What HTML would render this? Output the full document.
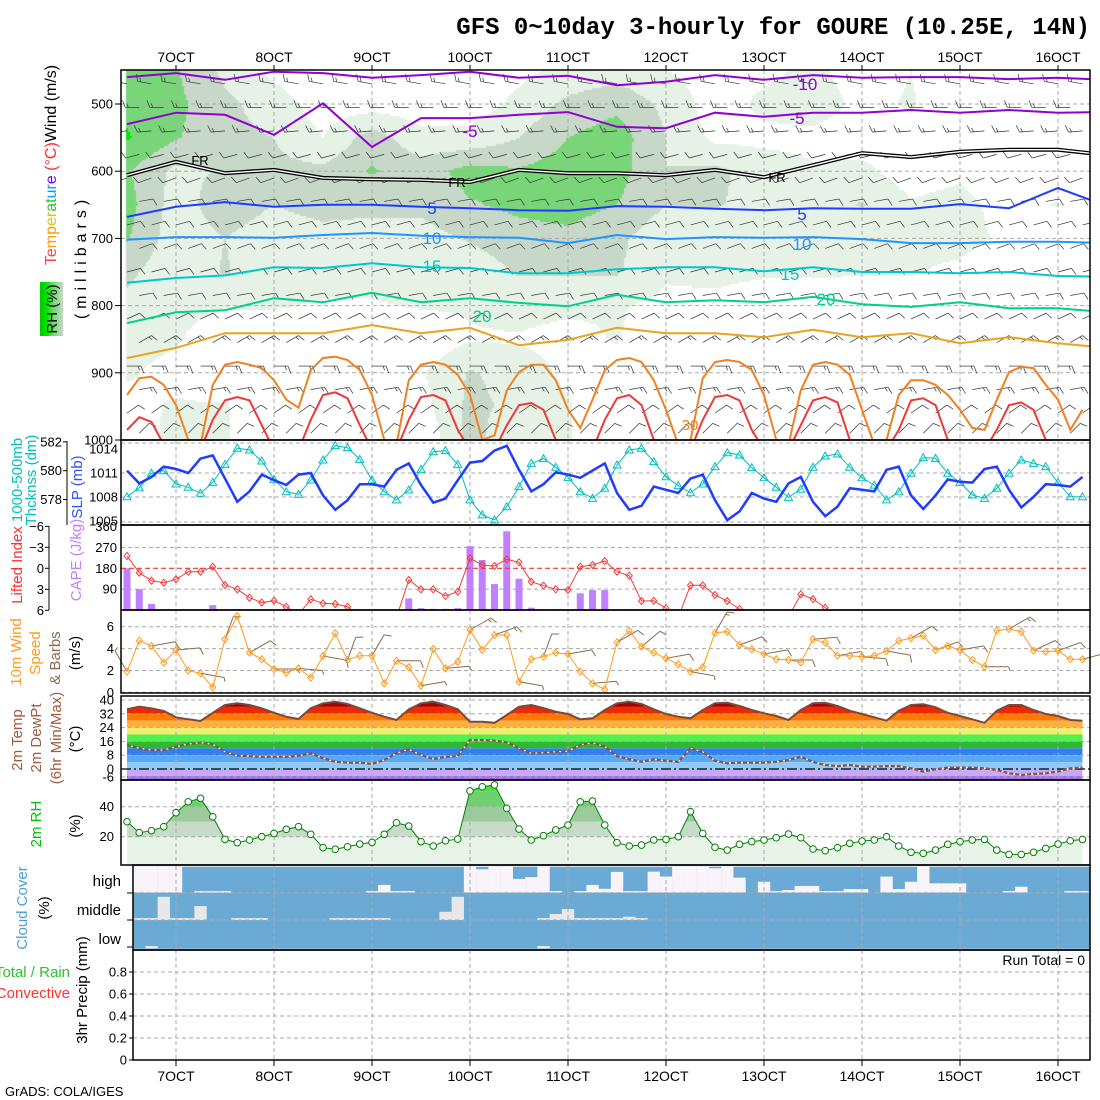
<!DOCTYPE html>
<html><head><meta charset="utf-8">
<style>
body{margin:0;background:#fff;}
#wrap{position:relative;width:1100px;height:1100px;overflow:hidden;background:#fff;}
canvas,svg{position:absolute;left:0;top:0;}
text{font-family:"Liberation Sans",sans-serif;}
</style></head>
<body>
<div id="wrap">
<canvas id="rhc" width="1100" height="1100"></canvas>
<svg id="s" width="1100" height="1100" xmlns="http://www.w3.org/2000/svg">
<defs>
<clipPath id="cTop"><rect x="121" y="70" width="969" height="370"/></clipPath>
<clipPath id="cLI"><rect x="121" y="525" width="969" height="85"/></clipPath>
<clipPath id="cCloud"><rect x="133" y="866" width="957" height="84"/></clipPath>
<linearGradient id="rhLeg" x1="0" x2="1" y1="0" y2="0"><stop offset="0" stop-color="#00c800"/><stop offset="0.3" stop-color="#00e600"/><stop offset="0.6" stop-color="#78d678"/><stop offset="1" stop-color="#c8d8c8"/></linearGradient>
</defs>
<text x="1090" y="34" text-anchor="end" style="font-family:'Liberation Mono',monospace;font-weight:bold;font-size:24px;">GFS 0~10day 3-hourly for GOURE (10.25E, 14N)</text>
<g id="gTop"></g>
<g id="gSlp"></g>
<g id="gCape"></g>
<g id="gWind"></g>
<g id="gTemp"></g>
<g id="gRh"></g>
<g id="gCloud"></g>
<g id="gPrec"></g>
<rect x="40" y="282" width="23" height="54" fill="url(#rhLeg)"/>
<text transform="translate(57,309) rotate(-90)" text-anchor="middle" font-size="15">RH (%)</text>
<text transform="translate(56,165) rotate(-90)" text-anchor="middle" font-size="16"><tspan fill="#ff4040">Te</tspan><tspan fill="#ff9900">mp</tspan><tspan fill="#d8c800">er</tspan><tspan fill="#30c030">at</tspan><tspan fill="#00a0ff">ur</tspan><tspan fill="#8000ff">e</tspan><tspan fill="#ff3030"> (°C)</tspan><tspan fill="#000">Wind (m/s)</tspan></text>
<text transform="translate(86,257) rotate(-90)" text-anchor="middle" font-size="16" letter-spacing="5">(millibars)</text>
<text transform="translate(22,480) rotate(-90)" text-anchor="middle" font-size="15" fill="#00c0c0">1000-500mb</text>
<text transform="translate(36,480) rotate(-90)" text-anchor="middle" font-size="15" fill="#00c0c0">Thcknss (dm)</text>
<text transform="translate(82,487) rotate(-90)" text-anchor="middle" font-size="15" fill="#3050ff">SLP (mb)</text>
<text transform="translate(22,565) rotate(-90)" text-anchor="middle" font-size="15" fill="#ff3030">Lifted Index</text>
<text transform="translate(81,560) rotate(-90)" text-anchor="middle" font-size="15" fill="#c080ff">CAPE (J/kg)</text>
<text transform="translate(21,652) rotate(-90)" text-anchor="middle" font-size="15" fill="#ff9a20">10m Wind</text>
<text transform="translate(40,653) rotate(-90)" text-anchor="middle" font-size="15" fill="#ff9a20">Speed</text>
<text transform="translate(60,658) rotate(-90)" text-anchor="middle" font-size="15" fill="#8b6b4a">&amp; Barbs</text>
<text transform="translate(80,653) rotate(-90)" text-anchor="middle" font-size="15">(m/s)</text>
<text transform="translate(22,740) rotate(-90)" text-anchor="middle" font-size="15" fill="#a05a3c">2m Temp</text>
<text transform="translate(41,738) rotate(-90)" text-anchor="middle" font-size="15" fill="#a05a3c">2m DewPt</text>
<text transform="translate(61,738) rotate(-90)" text-anchor="middle" font-size="15" fill="#a05a3c">(6hr Min/Max)</text>
<text transform="translate(80,739) rotate(-90)" text-anchor="middle" font-size="15">(°C)</text>
<text transform="translate(41,824) rotate(-90)" text-anchor="middle" font-size="15" fill="#00c000">2m RH</text>
<text transform="translate(80,826) rotate(-90)" text-anchor="middle" font-size="15">(%)</text>
<text transform="translate(27,908) rotate(-90)" text-anchor="middle" font-size="15" fill="#4aa0d8">Cloud Cover</text>
<text transform="translate(49,908) rotate(-90)" text-anchor="middle" font-size="15">(%)</text>
<text x="121" y="886" text-anchor="end" font-size="15">high</text>
<text x="121" y="915" text-anchor="end" font-size="15">middle</text>
<text x="121" y="944" text-anchor="end" font-size="15">low</text>
<text x="70" y="977" text-anchor="end" font-size="15" fill="#30c030">Total / Rain</text>
<text x="70" y="998" text-anchor="end" font-size="15" fill="#ff3030">Convective</text>
<text transform="translate(87,990) rotate(-90)" text-anchor="middle" font-size="15">3hr Precip (mm)</text>
<text x="1085" y="965" text-anchor="end" font-size="14">Run Total = 0</text>
<text x="5" y="1096" font-size="13">GrADS: COLA/IGES</text>
</svg>
</div>
<script>
// ---------- DATA ----------
const dayLabels=["7OCT","8OCT","9OCT","10OCT","11OCT","12OCT","13OCT","14OCT","15OCT","16OCT"];
const pTicks=[500,600,700,800,900,1000];
const slp=[1011.3,1009.7,1010.5,1011.8,1011.5,1011.0,1012.8,1013.2,1010.3,1007.4,1008.7,1010.8,1010.1,1009.5,1010.8,1011.0,1008.2,1006.4,1007.6,1009.6,1009.6,1009.3,1011.4,1012.2,1009.5,1007.3,1007.8,1010.1,1012.3,1012.5,1013.8,1014.4,1011.4,1008.7,1009.6,1011.1,1010.8,1010.4,1011.3,1012.2,1008.5,1006.4,1006.9,1009.3,1008.9,1008.5,1010.3,1010.8,1007.6,1005.1,1006.2,1008.5,1007.8,1007.4,1009.7,1010.5,1007.4,1005.6,1006.8,1009.1,1008.9,1008.7,1011.4,1011.8,1008.2,1006.5,1008.2,1010.2,1009.9,1009.8,1011.5,1011.8,1008.9,1006.7,1008.0,1009.6,1009.5,1009.3,1010.5];
const thick=[578.19,578.82,579.82,580.0,579.08,578.85,578.43,579.19,580.44,581.56,581.44,580.67,579.4,578.54,578.36,579.35,580.74,581.74,581.6,580.79,579.35,578.54,577.97,578.66,580.1,581.32,581.39,580.44,577.97,576.93,576.58,577.5,578.89,580.51,580.84,580.24,579.54,578.54,578.08,578.78,580.4,581.44,581.56,580.63,579.58,578.96,578.47,579.08,580.28,581.25,581.09,580.21,579.51,578.85,578.15,578.71,580.24,581.02,581.16,580.24,579.51,579.0,577.97,578.54,579.82,580.9,580.86,579.82,579.19,578.31,578.08,578.78,579.82,580.74,580.51,580.28,579.17,578.19,578.19];
const liftedIndex=[-1.76,0.63,1.77,2.06,1.57,0.49,0.49,-0.23,2.39,3.0,4.2,4.9,4.63,5.49,6.6,4.43,5.0,5.1,5.49,7,7,7,7,1.67,3.0,3.0,3.96,3.34,-1.43,-0.47,-0.33,-1.29,-0.86,1.91,2.48,3.0,3.1,-0.23,-0.47,-1.04,0.49,1.06,4.67,4.63,5.71,7,2.43,2.43,3.81,4.67,5.81,7,7,7,7,3.72,4.39,5.62,7,7,7,7,7,7,7,7,7,7,7,7,7,7,7,7,7,7,7,7,7];
const cape=[180,90,26,0,0,0,0,21,0,3,0,0,0,0,0,3,0,3,0,0,0,0,0,50,8,5,5,8,276,216,112,340,135,10,3,2,2,72,86,86,0,0,0,0,0,0,0,0,0,0,0,0,0,0,0,0,0,0,0,0,0,0,0,0,0,0,0,0,0,0,0,0,0,0,0,0,0,0,0];
const windSpeed=[1.89,4.72,4.24,2.71,3.87,1.98,1.74,0.46,4.85,6.98,3.62,3.02,2.13,1.79,2.19,1.34,3.32,5.4,2.96,3.35,3.35,0.82,2.89,2.29,0.6,3.96,2.19,2.8,5.7,3.87,5.24,5.24,0.97,3.02,3.26,3.62,3.5,1.89,0.82,0.27,4.57,5.61,4.17,3.62,3.11,2.56,1.89,2.29,5.45,5.54,4.33,3.93,3.5,3.02,2.96,2.74,4.85,4.54,3.35,3.35,3.26,3.35,3.78,4.72,4.94,5.18,3.87,4.24,3.87,2.96,2.34,5.64,5.79,5.54,3.81,3.71,3.81,3.02,3.02];
const windDir=[330,80,85,100,20,60,90,95,100,20,30,90,80,85,60,70,100,20,80,85,60,50,80,100,30,70,80,90,85,80,95,100,60,70,80,90,60,65,70,75];
const temp2m=[34.6,36.1,35.2,33.6,30.0,28.8,27.8,32.6,37.1,38.1,37.1,35.2,32.6,30.3,29.0,35.2,38.1,39.0,37.7,35.2,32.6,30.3,28.4,34.6,38.1,39.0,37.1,34.6,27.4,27.4,26.8,31.3,36.1,37.1,35.3,33.2,31.9,28.8,29.4,34.2,38.1,39.0,37.7,34.6,31.9,30.3,29.4,34.2,38.1,38.4,36.5,34.2,32.3,30.7,28.4,34.2,38.1,38.4,36.5,33.8,31.9,30.0,28.0,33.8,37.1,37.5,35.8,32.6,30.7,28.8,26.8,33.8,37.1,37.1,34.2,31.9,30.7,28.4,28.0];
const dew2m=[13.9,12.0,11.0,11.0,12.9,14.5,15.3,14.3,10.0,7.7,7.5,7.1,7.1,7.1,7.7,9.1,6.2,4.2,3.7,3.7,2.9,5.2,9.1,11.4,8.1,5.8,7.1,7.5,16.8,16.8,16.4,15.5,12.0,9.1,9.4,10.0,10.4,13.9,15.3,12.9,7.5,5.6,4.2,5.6,4.8,4.2,12.0,10.0,4.8,3.3,3.7,3.7,3.7,4.2,5.2,7.1,4.2,2.3,1.7,2.3,1.4,1.4,1.7,1.7,0.4,-1.5,-0.2,0.8,0.8,0.8,0.4,-0.6,-2.5,-3.5,-2.9,-2.5,-1.5,0.4,0.8];
const rh2m=[30.0,22.7,24.0,26.7,36.0,43.3,45.6,33.3,18.2,16.0,17.8,20.0,22.2,24.9,26.7,21.6,12.7,11.6,13.3,15.1,16.2,21.6,29.3,27.1,16.7,13.8,17.3,18.4,50.5,53.3,54.5,38.9,25.1,17.8,20.7,24.5,27.8,43.3,43.8,27.8,16.0,13.8,14.4,17.8,18.2,20.0,36.7,22.2,12.9,11.1,14.9,16.7,17.8,19.3,21.8,19.3,11.8,10.7,12.7,15.6,17.1,17.8,20.0,13.8,9.6,8.9,11.1,14.9,16.7,17.8,18.2,11.1,8.2,8.2,9.6,12.2,15.1,17.3,18.2];
const cloudHigh=[58,0,0,0,0,100,94,94,94,100,100,100,100,100,100,100,100,100,100,100,94,70,94,94,100,100,100,100,0,10,0,0,47,40,0,94,100,94,70,85,20,94,94,19,38,0,0,0,6,0,42,100,58,94,90,74,74,94,94,86,86,100,38,86,58,0,64,64,64,100,100,100,94,77,100,100,100,94,94];
const cloudMid=[88,93,93,15,93,93,49,100,100,93,93,93,100,100,100,100,100,93,93,93,93,93,100,100,100,100,70,15,100,100,100,100,100,100,93,78,60,93,93,93,93,88,93,100,100,100,100,100,100,100,100,100,100,100,100,100,100,100,100,100,100,100,100,100,100,100,100,100,100,100,100,100,100,100,100,100,100,100,100];
const cloudLow=[100,100,92,100,100,100,100,100,100,100,100,100,100,100,100,100,100,100,100,100,100,100,100,100,100,100,100,100,100,100,100,100,100,100,92,100,100,100,100,100,100,100,100,100,100,100,100,100,100,100,100,100,100,100,100,100,100,100,100,100,100,100,100,100,100,100,100,100,100,100,100,100,100,100,100,100,100,100,100];
const precip=[0,0,0,0,0,0,0,0,0,0,0,0,0,0,0,0,0,0,0,0,0,0,0,0,0,0,0,0,0,0,0,0,0,0,0,0,0,0,0,0,0,0,0,0,0,0,0,0,0,0,0,0,0,0,0,0,0,0,0,0,0,0,0,0,0,0,0,0,0,0,0,0,0,0,0,0,0,0,0];
const rhLevels=[450,500,550,600,650,700,750,800,850,900,950,1000];
const rhGrid=[
[75,72,45,25,15,15,15,15,25,35,40,30,20,25,35,20,30,15,10,10,10],
[85,75,55,40,20,20,20,20,35,55,65,45,20,35,40,25,32,15,10,10,10],
[92,72,55,50,30,60,35,35,50,70,80,50,25,25,25,20,25,15,10,10,10],
[72,45,52,55,55,72,60,78,72,80,78,50,55,40,32,35,20,25,10,10,10],
[78,40,62,50,58,56,55,68,75,78,70,50,52,42,35,52,32,38,20,32,10],
[72,38,50,38,42,40,42,52,62,65,55,35,35,35,35,35,35,38,25,10,10],
[55,35,52,35,38,38,38,38,52,52,52,33,35,33,33,32,32,25,10,10,10],
[45,35,32,32,28,28,32,32,38,35,32,25,25,18,18,15,15,12,10,10,10],
[35,32,18,15,12,12,15,28,28,22,32,12,12,10,10,10,10,10,10,10,10],
[32,25,12,8,8,12,28,52,42,25,18,8,8,8,8,8,8,8,8,8,8],
[25,32,32,8,8,10,22,55,45,32,12,12,8,8,8,8,8,8,30,25,8],
[20,35,32,8,8,10,12,58,32,32,12,10,8,8,8,8,8,8,30,25,8]];
const isoM10=[460,454,464,452,454,461,457,452,461,458,472,467,457,464,457,461,460,460,463,461,464];
const isoM5=[530,513,516,546,499,564,521,521,516,512,534,536,513,519,513,513,509,513,509,513,512];
const isoFR=[606,586,603,598,610,612,613,616,598,603,603,606,598,609,591,573,579,571,568,568,576];
const iso5=[668,653,646,653,650,650,653,655,658,659,652,653,656,658,655,656,656,649,655,625,652];
const iso10=[702,698,698,699,695,692,696,698,699,707,695,701,698,699,698,701,707,707,705,705,707];
const iso15=[766,759,755,743,744,737,743,744,752,752,746,743,743,749,743,750,750,752,750,756,757];
const iso20=[826,810,807,789,795,781,795,789,796,801,784,795,792,795,787,798,802,795,804,804,810];
const iso25=[878,863,841,841,841,829,841,833,859,851,833,841,841,847,836,847,841,856,847,856,863];
const iso30=[933,908,906,918,948,1000,1007,918,888,884,888,893,911,940,952,896,878,876,881,896,933,1000,1007,911,888,884,888,903,933,1000,993,926,899,888,888,911,955,982,940,896,881,878,884,911,955,1007,1000,908,884,881,884,896,933,1000,1007,926,888,884,888,903,955,1007,1000,933,911,911,918,933,955,982,985,940,899,891,893,918,940,985,955];
const iso35=[985,966,973,1007,1015,1015,1015,970,941,936,941,978,1015,1015,1015,970,933,929,938,978,1015,1015,1015,970,936,933,941,985,1015,1015,1015,978,948,945,955,1000,1015,1015,1015,970,938,933,948,1000,1015,1015,1015,970,936,933,941,985,1015,1015,1015,978,941,936,944,1000,1015,1015,1015,985,941,938,948,1000,1015,1015,1015,985,948,944,955,1000,1015,1015,1015];
const barbLevels=[470,505,540,575,610,645,680,715,750,785,820,855,890,925,960,990];
const barbDirs=[280,270,265,255,250,80,75,70,75,80,65,60,90,80,55,45];
const barbKts=[15,15,15,12,10,10,10,12,12,10,12,15,15,15,12,10];

// ---------- HELPERS ----------
const NS='http://www.w3.org/2000/svg';
function el(tag,attrs,parent){const e=document.createElementNS(NS,tag);for(const k in attrs)e.setAttribute(k,attrs[k]);parent.appendChild(e);return e;}
const X=i=>127+12.25*i;
const yP=p=>440-(1000-p)*0.672;
const ySLP=v=>473-(v-1011)*8;
const yTh=v=>470.7-(v-580)*14.4;
const yLI=v=>568.3+v*7;
const yCAPE=v=>610-v*0.2315;
const yWS=v=>692.3-v*10.93;
const yT=v=>769-v*1.725;
const yRH=v=>866.7-v*1.5;
const yPr=v=>1060-v*110;
const dayIdx=k=>4+8*k;
const GRID='#aaaaaa';
function pts(arr,xf,yf){return arr.map((v,i)=>xf(i).toFixed(1)+','+yf(v).toFixed(1)).join(' ');}
function vgrid(g,y0,y1,x0){
  for(let k=0;k<dayLabels.length;k++){const x=X(dayIdx(k)); if(x<(x0||121))continue;
    const l=el('line',{x1:x,x2:x,y1:y0,y2:y1,stroke:GRID,'stroke-dasharray':'4,3','stroke-width':1},g);
    
    }
}
function hgrid(g,y,x0){
  const l=el('line',{x1:x0||121,x2:1090,y1:y,y2:y,stroke:GRID,'stroke-dasharray':'4,3','stroke-width':1},g);
  
  
}
function border(g,x,y,w,h,name){
  const r=el('rect',{x:x,y:y,width:w,height:h,fill:'none',stroke:'#000','stroke-width':1.5},g);
  
  
}
function tick(g,x,y,txt,name,anchor,color){
  const t=el('text',{x:x,y:y+4.5,'text-anchor':anchor||'end','font-size':13,fill:color||'#000'},g);
  t.textContent=txt;
  
  
}
function barb(g,x,y,dir,kt,len,color,w){
  const r=dir*Math.PI/180,ux=Math.sin(r),uy=-Math.cos(r);
  const x2=x+ux*len,y2=y+uy*len;
  const s=el('line',{x1:x,y1:y,x2:x2,y2:y2,stroke:color,'stroke-width':w},g);
  
  
  let full=Math.floor(kt/10),half=(kt%10)>=5?1:0,pos=0;
  const px=-uy,py=ux;
  for(let f=0;f<full+half;f++){
    const fl=(f<full)?7:4;
    const bx=x2-ux*pos,by=y2-uy*pos;
    const fe=el('line',{x1:bx,y1:by,x2:bx+px*fl+ux*fl*0.4,y2:by+py*fl+uy*fl*0.4,stroke:color,'stroke-width':w},g);
    
    
    pos+=3;
  }
}

// ---------- TOP PANEL ----------
(function(){
  const cv=document.getElementById('rhc'),ctx=cv.getContext('2d');
  const cols=rhGrid[0].length;
  for(let y=70;y<440;y+=2){
    const p=1000-(440-(y+1))/0.672;
    let fr=(p-450)/50; fr=Math.max(0,Math.min(rhLevels.length-1.0001,fr));
    const r0=Math.floor(fr),tr=fr-r0;
    for(let x=126;x<1090;x+=2){
      let fc=((x+1-127)/12.25)/4; fc=Math.max(0,Math.min(cols-1.0001,fc));
      const c0=Math.floor(fc),tc=fc-c0;
      const v=(rhGrid[r0][c0]*(1-tc)+rhGrid[r0][c0+1]*tc)*(1-tr)+(rhGrid[r0+1][c0]*(1-tc)+rhGrid[r0+1][c0+1]*tc)*tr;
      let col=null;
      if(v>=90)col='#00e600';else if(v>=70)col='#78d678';else if(v>=50)col='#c8d8c8';else if(v>=30)col='#e6f2e6';
      if(col){ctx.fillStyle=col;ctx.fillRect(x,y,2,2);}
    }
  }
  const g=document.getElementById('gTop');
  pTicks.forEach(p=>{ if(p<1000) hgrid(g,yP(p)); });
  vgrid(g,70,440);
  const gc=el('g',{'clip-path':'url(#cTop)'},g);
  
  
  const gb=el('g',{},gc);
  
  
  for(let r=0;r<barbLevels.length;r++){
    for(let i=(r%2);i<79;i+=2){ barb(gb,X(i),yP(barbLevels[r]),barbDirs[r],barbKts[r],14,'#333',0.7); }
  }
  const xf4=i=>X(4*i);
  const iso=[[isoM10,'#9000d0','isotherm-minus10'],[isoM5,'#9000d0','isotherm-minus5'],[iso5,'#1e3cff','isotherm-5'],[iso10,'#1e96ff','isotherm-10'],[iso15,'#00c8c8','isotherm-15'],[iso20,'#00d08c','isotherm-20'],[iso25,'#e6a51e','isotherm-25']];
  iso.forEach(d=>{
    const l=el('polyline',{points:pts(d[0],xf4,yP),fill:'none',stroke:d[1],'stroke-width':2},gc);
    
    
  });
  const fr1=el('polyline',{points:pts(isoFR,xf4,yP),fill:'none',stroke:'#000','stroke-width':4},gc);
  
  
  const fr2=el('polyline',{points:pts(isoFR,xf4,yP),fill:'none',stroke:'#fff','stroke-width':1.4},gc);
  
  
  const l30=el('polyline',{points:pts(iso30,X,yP),fill:'none',stroke:'#f08020','stroke-width':2},gc);
  
  
  const l35=el('polyline',{points:pts(iso35,X,yP),fill:'none',stroke:'#f03838','stroke-width':2},gc);
  
  
  const labs=[['-10',805,90,'#9000d0',17],['-5',470,137,'#9000d0',17],['-5',797,124,'#9000d0',17],['FR',200,165,'#000',13],['FR',457,187,'#000',13],['FR',777,182,'#000',13],['5',432,214,'#1e3cff',17],['5',802,220,'#1e3cff',17],['10',432,244,'#1e96ff',17],['10',802,250,'#1e96ff',17],['15',432,272,'#00c8c8',17],['15',790,280,'#00c8c8',17],['20',482,322,'#00d08c',17],['20',826,305,'#00d08c',17],['30',690,430,'#f08020',15]];
  labs.forEach(a=>{
    const t=el('text',{x:a[1],y:a[2],'text-anchor':'middle','font-size':a[4],fill:a[3]},g);
    t.textContent=a[0];
    
    
  });
  border(g,121,70,969,370,'upper-air-frame');
  pTicks.forEach(p=>{
    tick(g,113,yP(p),String(p),'pressure-tick-label');
    const tk=el('line',{x1:115,x2:121,y1:yP(p),y2:yP(p),stroke:'#000'},g);
    
    
  });
  for(let k=0;k<dayLabels.length;k++){
    const x=X(dayIdx(k));
    const t=el('text',{x:x,y:62,'text-anchor':'middle','font-size':14},g);
    t.textContent=dayLabels[k];
    
    
    const tk=el('line',{x1:x,x2:x,y1:65,y2:70,stroke:'#000'},g);
    
    
  }
})();

// ---------- SLP / THICKNESS ----------
(function(){
  const g=document.getElementById('gSlp');
  [1011,1008].forEach(v=>hgrid(g,ySLP(v)));
  hgrid(g,443);hgrid(g,522);
  vgrid(g,440,525);
  const th=el('polyline',{points:pts(thick,X,yTh),fill:'none',stroke:'#00c0c0','stroke-width':1},g);
  
  
  thick.forEach((v,i)=>{const x=X(i),y=yTh(v);
    const m=el('polygon',{points:`${x},${y-4} ${x-4},${y+3} ${x+4},${y+3}`,fill:'none',stroke:'#00c0c0','stroke-width':1},g);
    
    });
  const sl=el('polyline',{points:pts(slp,X,ySLP),fill:'none',stroke:'#1f3cff','stroke-width':2.5},g);
  
  
  border(g,121,440,969,85,'slp-frame');
  [582,580,578].forEach(v=>{tick(g,62,yTh(v),String(v),'thickness-tick-label');
    const tk=el('line',{x1:63,x2:67,y1:yTh(v),y2:yTh(v),stroke:'#000'},g);
    
    });
  const ax=el('line',{x1:67,x2:67,y1:441,y2:525,stroke:'#000'},g);
  
  
  [1014,1011,1008,1005].forEach(v=>tick(g,118,ySLP(v),String(v),'slp-tick-label'));
})();

// ---------- CAPE / LI ----------
(function(){
  const g=document.getElementById('gCape');
  [270,90].forEach(v=>hgrid(g,yCAPE(v)));
  vgrid(g,525,610);
  cape.forEach((v,i)=>{ if(v<=0)return;
    const b=el('rect',{x:X(i)-3.5,y:yCAPE(v),width:7,height:610-yCAPE(v),fill:'#c080ff'},g);
    
    });
  const z=el('line',{x1:121,x2:1090,y1:yLI(0),y2:yLI(0),stroke:'#ff3030','stroke-dasharray':'5,3','stroke-width':1.2},g);
  
  
  const gc=el('g',{'clip-path':'url(#cLI)'},g);
  
  
  const li=el('polyline',{points:pts(liftedIndex,X,yLI),fill:'none',stroke:'#f03c3c','stroke-width':1},gc);
  
  
  liftedIndex.forEach((v,i)=>{const x=X(i),y=yLI(v);
    const m=el('polygon',{points:`${x},${y-3.5} ${x+3},${y} ${x},${y+3.5} ${x-3},${y}`,fill:'none',stroke:'#f03c3c','stroke-width':1},gc);
    
    });
  border(g,121,525,969,85,'cape-frame');
  [-6,-3,0,3,6].forEach(v=>{tick(g,44,yLI(v),String(v).replace('-','−'),'li-tick-label');
    const tk=el('line',{x1:45,x2:49,y1:yLI(v),y2:yLI(v),stroke:'#000'},g);
    
    });
  const ax=el('line',{x1:49,x2:49,y1:526,y2:610,stroke:'#000'},g);
  
  
  [360,270,180,90].forEach(v=>tick(g,117,yCAPE(v),String(v),'cape-tick-label'));
})();

// ---------- WIND ----------
(function(){
  const g=document.getElementById('gWind');
  [6,4,2,0].forEach(v=>hgrid(g,yWS(v)));
  vgrid(g,610,693);
  const gb=el('g',{},g);
  
  
  windDir.forEach((d,k)=>{const i=2*k; barb(gb,X(i),yWS(windSpeed[i]),d,windSpeed[i]*1.94+5,24,'#8b6b4a',1);});
  const ws=el('polyline',{points:pts(windSpeed,X,yWS),fill:'none',stroke:'#ff9a1a','stroke-width':1},g);
  
  
  windSpeed.forEach((v,i)=>{const x=X(i),y=yWS(v);
    const m=el('polygon',{points:`${x},${y-3.5} ${x+3},${y} ${x},${y+3.5} ${x-3},${y}`,fill:'none',stroke:'#ff9a1a','stroke-width':1},g);
    
    });
  border(g,121,610,969,83,'wind-frame');
  [6,4,2,0].forEach(v=>tick(g,114,yWS(v),String(v),'wind-tick-label'));
})();

// ---------- TEMPERATURE ----------
(function(){
  const g=document.getElementById('gTemp');
  const cp=el('clipPath',{id:'cTemp'},g);
  el('polygon',{points:`${X(0)},781 `+pts(temp2m,X,yT)+` ${X(78)},781`},cp);
  const bands=[[36,44,'#a80000'],[32,36,'#f02800'],[28,32,'#ff7800'],[24,28,'#ffb040'],[20,24,'#f0f070'],[16,20,'#50f050'],[12,16,'#30b830'],[8,12,'#3080f0'],[4,8,'#58a8f8'],[0,4,'#90c8f8'],[-4,0,'#c8a8f8'],[-8,-4,'#a070e8']];
  const gbd=el('g',{'clip-path':'url(#cTemp)'},g);
  
  
  bands.forEach(b=>{const y1=Math.max(697,yT(b[1])),y2=Math.min(780,yT(b[0]));
    const r=el('rect',{x:121,y:y1,width:969,height:y2-y1,fill:b[2]},gbd);
    
    });
  [40,32,24,16,8].forEach(v=>hgrid(g,yT(v)));
  hgrid(g,777);
  vgrid(g,697,780);
  const z=el('line',{x1:121,x2:1090,y1:yT(0),y2:yT(0),stroke:'#000','stroke-dasharray':'10,3,2,3','stroke-width':1.3},g);
  
  
  const tl=el('polyline',{points:pts(temp2m,X,yT),fill:'none',stroke:'#7a4a3c','stroke-width':2},g);
  
  
  const dw=el('polyline',{points:pts(dew2m,X,yT),fill:'none',stroke:'#fff','stroke-width':1},g);
  
  
  const dl=el('polyline',{points:pts(dew2m,X,yT),fill:'none',stroke:'#8b5040','stroke-width':2.2,'stroke-dasharray':'4,2'},g);
  
  
  border(g,121,696,969,84,'temperature-frame');
  [40,32,24,16,8,0].forEach(v=>tick(g,114,yT(v),String(v),'temperature-tick-label'));
  tick(g,114,777,'-6','temperature-tick-label');
})();

// ---------- 2m RH ----------
(function(){
  const g=document.getElementById('gRh');
  const cp=el('clipPath',{id:'cRh'},g);
  el('polygon',{points:`${X(0)},866 `+pts(rh2m,X,yRH)+` ${X(78)},866`},cp);
  const bands=[[0,20,'#e8f3e8'],[20,30,'#c8dac8'],[30,40,'#9ccc9c'],[40,50,'#70d070'],[50,100,'#4ee04e']];
  const gbd=el('g',{'clip-path':'url(#cRh)'},g);
  
  
  bands.forEach(b=>{const y1=Math.max(780,yRH(b[1])),y2=Math.min(866,yRH(b[0]));
    const r=el('rect',{x:121,y:y1,width:969,height:y2-y1,fill:b[2]},gbd);
    
    });
  [40,20].forEach(v=>hgrid(g,yRH(v)));
  vgrid(g,780,865);
  const l=el('polyline',{points:pts(rh2m,X,yRH),fill:'none',stroke:'#008000','stroke-width':1},g);
  
  
  rh2m.forEach((v,i)=>{
    const m=el('circle',{cx:X(i),cy:yRH(v),r:3.3,fill:'#fff',stroke:'#008000','stroke-width':1},g);
    
    });
  border(g,121,780,969,85,'rh-frame');
  [40,20].forEach(v=>tick(g,114,yRH(v),String(v),'rh-tick-label'));
})();

// ---------- CLOUD ----------
(function(){
  const g=document.getElementById('gCloud');
  const gc=el('g',{'clip-path':'url(#cCloud)'},g);
  
  
  const rows=[[cloudHigh,866.7,892.7,'cloud-high'],[cloudMid,892.7,920,'cloud-middle'],[cloudLow,920,948.3,'cloud-low']];
  rows.forEach(r=>{
    const bg=el('rect',{x:121,y:r[1],width:969,height:r[2]-r[1]+0.5,fill:'#6aaad4'},gc);
    
    
    r[0].forEach((c,i)=>{ if(c>=100)return;
      const h=(r[2]-r[1])*(100-c)/100;
      const w=el('rect',{x:X(i)-6.125,y:r[2]-h,width:12.35,height:h,fill:(r[3]==='cloud-high'?'#f8f4fa':'#e8e8e8')},gc);
      
      
    });
  });
  [892.7,920].forEach(y=>hgrid(g,y,133));
  vgrid(g,866,950,133);
  [893,920,947].forEach(y=>{const t=el('line',{x1:127,x2:133,y1:y,y2:y,stroke:'#000'},g);
    
    });
  border(g,133,865,957,85,'cloud-frame');
})();

// ---------- PRECIP ----------
(function(){
  const g=document.getElementById('gPrec');
  [0.2,0.4,0.6,0.8].forEach(v=>hgrid(g,yPr(v),133));
  vgrid(g,950,1060,133);
  precip.forEach((v,i)=>{ if(v<=0)return;
    const b=el('rect',{x:X(i)-4,y:yPr(v),width:8,height:1060-yPr(v),fill:'#30c030'},g);
    
    });
  border(g,133,950,957,110,'precip-frame');
  [0.8,0.6,0.4,0.2,0].forEach(v=>{tick(g,127,yPr(v),String(v),'precip-tick-label');
    const tk=el('line',{x1:129,x2:133,y1:yPr(v),y2:yPr(v),stroke:'#000'},g);
    
    });
  for(let k=0;k<dayLabels.length;k++){
    const x=X(dayIdx(k));
    const t=el('text',{x:x,y:1081,'text-anchor':'middle','font-size':14},g);
    t.textContent=dayLabels[k];
    
    
    const tk=el('line',{x1:x,x2:x,y1:1060,y2:1066,stroke:'#000'},g);
    
    
  }
})();
</script>
</body></html>
